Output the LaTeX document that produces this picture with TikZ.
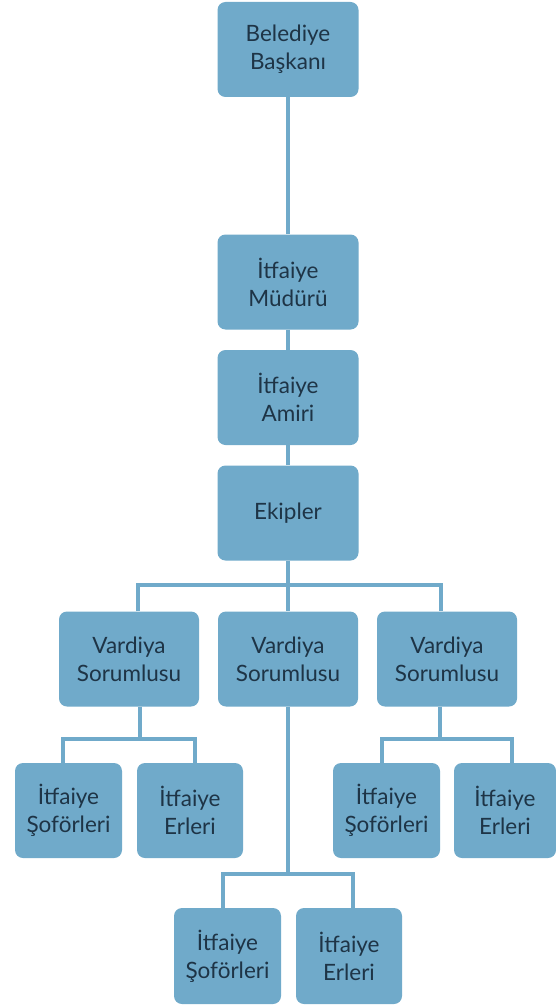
\documentclass[tikz,border=0pt]{standalone}
\usepackage{fontspec}
\setmainfont{Lato}
\usetikzlibrary{calc}
\definecolor{boxfill}{RGB}{112,170,202}
\definecolor{linecol}{RGB}{112,170,202}
\definecolor{txt}{RGB}{30,52,70}
\begin{document}
\begin{tikzpicture}[x=1pt,y=-1pt,
  box/.style={fill=boxfill, rounded corners=8pt, inner sep=0pt, align=center,
    text=txt, font=\fontsize{22.5}{28}\selectfont},
  bigbox/.style={box, minimum width=141pt, minimum height=95pt},
  smallbox/.style={box, minimum width=106pt, minimum height=95pt},
  conn/.style={draw=linecol, line width=4.5pt, line join=miter}]
\useasboundingbox (0,0) rectangle (556,1006);
\fill[white] (0,0) rectangle (556,1006);
\coordinate (j0) at (288,585);
\coordinate (j1) at (140,739);
\coordinate (j3) at (440,739);
\coordinate (j2) at (288,874);
% nodes
\node[bigbox] (bb) at (288,49.5) {Belediye\\Başkanı};
\node[bigbox] (mud) at (288,282) {İtfaiye\\Müdürü};
\node[bigbox] (ami) at (288,397.5) {İtfaiye\\Amiri};
\node[bigbox] (eki) at (288,513) {Ekipler};
\node[bigbox, minimum width=140pt] (v1) at (129,659) {Vardiya\\Sorumlusu};
\node[bigbox, minimum width=140pt] (v2) at (288,659) {Vardiya\\Sorumlusu};
\node[bigbox, minimum width=140pt] (v3) at (447,659) {Vardiya\\Sorumlusu};
\node[smallbox, minimum width=107pt] (s1) at (68.5,810.5) {İtfaiye\\Şoförleri};
\node[smallbox] (e1) at (190,810.5) {İtfaiye\\Erleri};
\node[smallbox, minimum width=107pt] (s3) at (386.5,810.5) {İtfaiye\\Şoförleri};
\node[smallbox, minimum width=102pt] (e3) at (505,810.5) {İtfaiye\\Erleri};
\node[smallbox, minimum width=107pt, minimum height=96pt] (s2) at (227.5,956) {İtfaiye\\Şoförleri};
\node[smallbox, minimum height=96pt] (e2) at (349,956) {İtfaiye\\Erleri};
% connectors
\draw[conn] (bb.south) -- (mud.north);
\draw[conn] (mud.south) -- (ami.north);
\draw[conn] (ami.south) -- (eki.north);
\draw[conn] (eki.south) -- (j0);
\draw[conn] ([xshift=9pt]v1.north) |- (j0) -| ([xshift=-6pt]v3.north);
\draw[conn] (j0) -- (v2.north);
\draw[conn] ([xshift=11pt]v1.south) -- (j1);
\draw[conn] ([xshift=-5.5pt]s1.north) |- (j1) -| ([xshift=5pt]e1.north);
\draw[conn] (v2.south) -- (j2);
\draw[conn] ([xshift=-4.5pt]s2.north) |- (j2) -| ([xshift=4pt]e2.north);
\draw[conn] ([xshift=-7pt]v3.south) -- (j3);
\draw[conn] ([xshift=-4.5pt]s3.north) |- (j3) -| ([xshift=7pt]e3.north);
\end{tikzpicture}
\end{document}
